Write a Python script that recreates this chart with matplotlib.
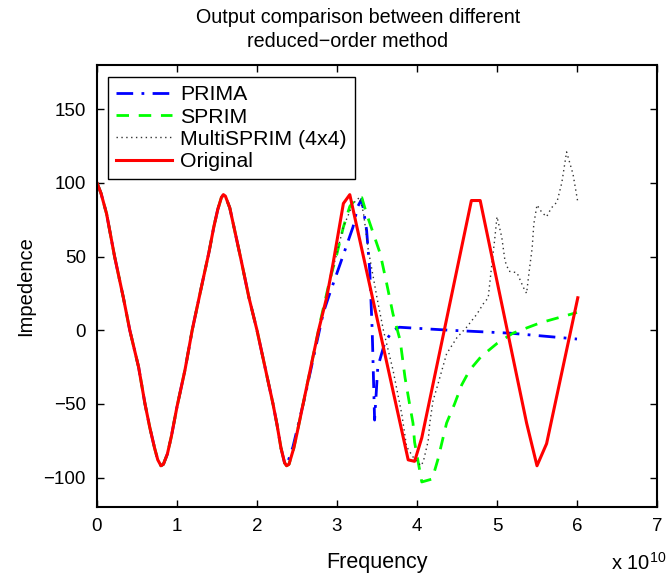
import numpy as np
import matplotlib
matplotlib.use("Agg")
import matplotlib.pyplot as plt

plt.rcParams['font.family'] = ['Liberation Sans', 'DejaVu Sans']
plt.rcParams['mathtext.default'] = 'regular'

# frequency in units of 1e10 Hz
# part shared by all four curves (up to the second minimum)
common_f = [0, 0.05, 0.12, 0.22, 0.33, 0.41, 0.52, 0.6, 0.66, 0.72, 0.76, 0.8, 0.83, 0.88, 0.93,
            1.0, 1.1, 1.19, 1.3, 1.4, 1.46, 1.51, 1.555, 1.58, 1.605, 1.66, 1.72, 1.8, 1.9, 2.0,
            2.1, 2.2, 2.25, 2.3, 2.345, 2.37]
common_z = [100, 93, 79, 50, 22, 0, -25, -50, -66, -80, -88, -92, -91, -84, -72,
            -52, -27, 0, 28, 53, 70, 82, 90, 92, 91, 83, 68, 48, 22, 0,
            -25, -50, -64, -80, -90, -92]

orig_f = [2.4, 2.46, 2.5, 2.6, 2.7, 2.77, 2.87, 2.95, 3.08, 3.16, 3.89, 3.97, 4.06, 4.68, 4.79,
          5.37, 5.5, 5.62, 6.01]
orig_z = [-91, -80, -70, -44, -18, 0, 22, 45, 86, 92, -88, -89, -73, 88, 88,
          -63, -92, -77, 22]

prima_f = [2.45, 2.6, 2.7, 2.83, 2.91, 3.04, 3.2, 3.26, 3.31, 3.37, 3.41, 3.44, 3.47, 3.51, 3.6,
           3.7, 3.78, 4.4, 5.16, 6.0]
prima_z = [-79, -45, -20, 12, 25, 45, 70, 84, 89, 68, 40, 0, -61, -25, -8,
           0, 2, 0, -2, -6]

sprim_f = [2.4, 2.46, 2.5, 2.6, 2.7, 2.8, 2.91, 3.0, 3.08, 3.16, 3.25, 3.31, 3.37, 3.54, 3.62,
           3.7, 3.79, 3.85, 3.91, 3.95, 3.97, 4.01, 4.06, 4.19, 4.26, 4.37, 4.47, 4.56, 4.66,
           4.8, 5.0, 5.2, 5.54, 6.0]
sprim_z = [-91, -80, -70, -44, -18, 8, 34, 52, 70, 84, 90, 90, 79, 52, 32,
           11, -7, -32, -51, -63, -76, -88, -103, -101, -88, -63, -50, -37, -27,
           -18, -9, -2, 5, 12]

multi_f = [2.4, 2.46, 2.5, 2.6, 2.7, 2.77, 2.87, 2.95, 3.08, 3.2, 3.28, 3.33, 3.39, 3.5, 3.58,
           3.7, 3.81, 3.87, 3.95, 4.05, 4.08, 4.14, 4.16, 4.2, 4.26, 4.37, 4.5, 4.62, 4.75,
           4.83, 4.89, 4.93, 4.97, 5.0, 5.06, 5.1, 5.15, 5.25, 5.33, 5.37, 5.4, 5.44, 5.46,
           5.5, 5.56, 5.62, 5.68, 5.75, 5.81, 5.87, 5.95, 6.01]
multi_z = [-91, -80, -70, -44, -18, 0, 22, 42, 70, 86, 90, 80, 55, 22, 0,
           -27, -57, -79, -86, -92, -89, -75, -63, -48, -37, -16, -5, 2, 11,
           18, 22, 42, 61, 77, 63, 47, 40, 39, 29, 25, 39, 56, 72,
           85, 80, 77, 83, 87, 100, 121, 106, 87]

labels = ['PRIMA', 'SPRIM', 'MultiSPRIM (4x4)', 'Original']
xticks = [0, 1, 2, 3, 4, 5, 6, 7]
yticks = [-100, -50, 0, 50, 100, 150]

fig = plt.figure(figsize=(6.67, 5.77), dpi=100)
ax = fig.add_axes([0.1454, 0.1213, 0.8396, 0.7661])

ax.plot(common_f + prima_f, common_z + prima_z, color='#0000ff', lw=2,
        linestyle=(0, (6, 3, 1, 3)), label=labels[0])
ax.plot(common_f + sprim_f, common_z + sprim_z, color='#00ff00', lw=2,
        linestyle=(0, (4.5, 3.5)), label=labels[1])
ax.plot(common_f + multi_f, common_z + multi_z, color='#333333', lw=1,
        linestyle=(0, (1, 2.5)), label=labels[2])
ax.plot(common_f + orig_f, common_z + orig_z, color='#ff0000', lw=2.2,
        solid_joinstyle='round', label=labels[3])

ax.set_xlim(0, 7)
ax.set_ylim(-120, 180)
ax.set_xticks(xticks)
ax.set_yticks(yticks)
ax.set_yticklabels([str(v).replace('-', '\u2212') for v in yticks])
ax.tick_params(direction='in', length=5, width=1, top=True, right=True, labelsize=13.5, pad=8)
for s in ax.spines.values():
    s.set_linewidth(1.5)

ax.set_xlabel('Frequency', fontsize=15.5, labelpad=12)
ax.set_ylabel('Impedence', fontsize=14.5, labelpad=6)

fig.text(0.537, 0.961, 'Output comparison between different', ha='center', va='baseline', fontsize=14.2)
fig.text(0.521, 0.919, 'reduced\u2212order method', ha='center', va='baseline', fontsize=14.2)
fig.text(0.958, 0.012, r'x 10$^{10}$', ha='center', va='baseline', fontsize=14.5)

leg = ax.legend(loc='upper left', bbox_to_anchor=(0.0196, 0.973), borderaxespad=0,
                fontsize=15.3, handlelength=2.6, handletextpad=0.4, labelspacing=0.15,
                fancybox=False, framealpha=1, edgecolor='black', borderpad=0.4)
leg.get_frame().set_linewidth(1)

fig.savefig('out.png', dpi=100)
